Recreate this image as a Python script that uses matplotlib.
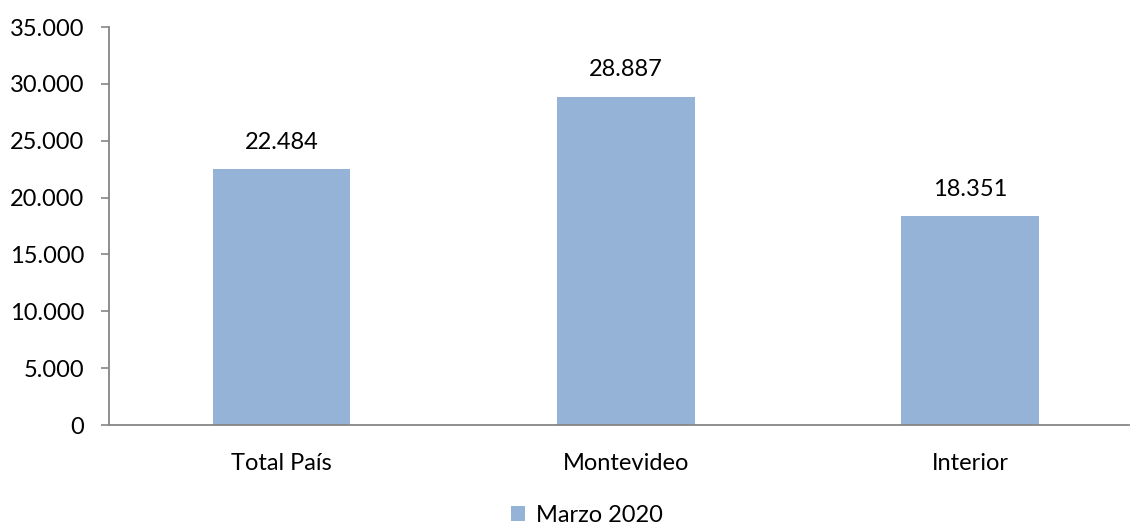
import matplotlib
matplotlib.use("Agg")
import matplotlib.pyplot as plt
from matplotlib.patches import Patch

categories = ["Total País", "Montevideo", "Interior"]
values = [22484, 28887, 18351]
series_name = "Marzo 2020"
yticks = [0, 5000, 10000, 15000, 20000, 25000, 30000, 35000]

def fmt(v):
    return f"{v:,.0f}".replace(",", ".")

plt.rcParams['font.family'] = ['Lato', 'DejaVu Sans']
FS = 17
bar_color = "#95B3D7"
axis_color = "#868686"

fig = plt.figure(figsize=(11.3, 5.25), dpi=100)
ax = fig.add_axes([109/1130, 1 - 425/525, (1129-109)/1130, (425-27)/525])

x = list(range(len(categories)))
ax.bar(x, values, width=0.4, color=bar_color, zorder=2)
for xi, v in zip(x, values):
    ax.annotate(fmt(v), (xi, v), xytext=(0, 12), textcoords="offset points",
                ha="center", va="bottom", fontsize=FS, color="black")

ax.set_xlim(-0.5007, 2.461)
ax.set_ylim(0, 35000)
ax.set_yticks(yticks)
ax.set_yticklabels([fmt(t) for t in yticks], fontsize=FS)
ax.set_xticks(x)
ax.set_xticklabels(categories, fontsize=FS)
ax.tick_params(axis='x', length=0, pad=20)
ax.tick_params(axis='y', length=6, width=1.2, color=axis_color, pad=12, direction='out')

for s in ["top", "right"]:
    ax.spines[s].set_visible(False)
for s in ["left", "bottom"]:
    ax.spines[s].set_color(axis_color)
    ax.spines[s].set_linewidth(1.3)

handles = [Patch(facecolor=bar_color, edgecolor='none', label=series_name)]
fig.legend(handles=handles, loc="center", bbox_to_anchor=(587/1130, 1 - 515/525),
           frameon=False, fontsize=FS, handlelength=0.6, handleheight=0.6,
           handletextpad=0.45, borderpad=0)

fig.savefig("out.png", dpi=100)
